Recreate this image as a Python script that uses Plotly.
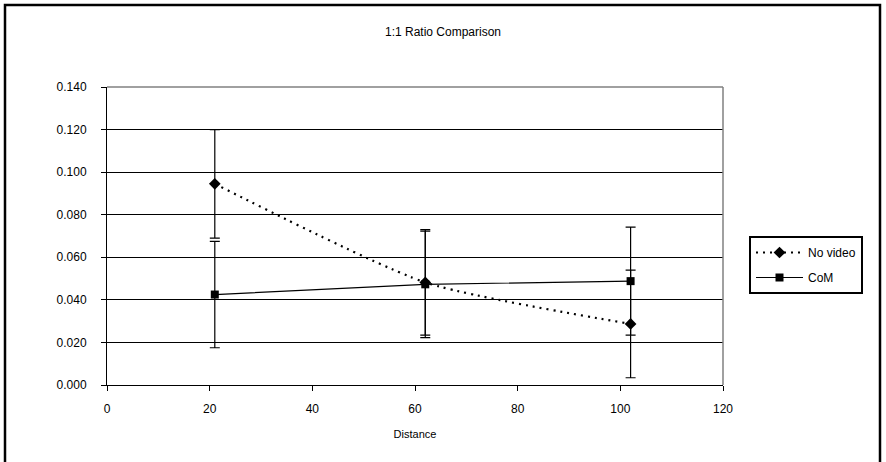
import plotly.graph_objects as go

# Distance values and measured ratios with their error margins
distance = [21, 62, 102]
no_video = [0.0945, 0.0482, 0.0287]
no_video_err = [0.0255, 0.0248, 0.0253]
com = [0.0425, 0.0473, 0.0488]
com_err = [0.0250, 0.0250, 0.0254]

x_ticks = [0, 20, 40, 60, 80, 100, 120]
y_ticks = [0.0, 0.02, 0.04, 0.06, 0.08, 0.10, 0.12, 0.14]

FONT = "Liberation Sans, Arial, sans-serif"

fig = go.Figure()

fig.add_trace(go.Scatter(
    x=distance, y=no_video, name="No video", mode="lines+markers",
    legendgroup="a",
    line=dict(color="black", width=2.2, dash="2px,5px", shape="spline", smoothing=0.6),
    marker=dict(symbol="diamond", size=9, color="black"),
    error_y=dict(type="data", array=no_video_err, visible=True,
                 color="black", thickness=1.2, width=5),
))

fig.add_trace(go.Scatter(
    x=distance, y=com, name="CoM", mode="lines+markers",
    legendgroup="b",
    line=dict(color="black", width=1.2),
    marker=dict(symbol="square", size=8, color="black"),
    error_y=dict(type="data", array=com_err, visible=True,
                 color="black", thickness=1.2, width=5),
))

L, R, T, B = 107, 163, 87, 77
W, H = 886, 462
pw, ph = W - L - R, H - T - B


def px_x(p):
    return (p - L) / pw


def px_y(p):
    return (H - B - p) / ph


# Outer chart frame
fig.add_shape(type="rect", xref="paper", yref="paper",
              x0=px_x(5), x1=px_x(880), y0=px_y(475), y1=px_y(5),
              line=dict(color="black", width=2.5), layer="below")

fig.update_layout(
    width=W, height=H,
    margin=dict(l=L, r=R, t=T, b=B),
    paper_bgcolor="white", plot_bgcolor="white",
    font=dict(family=FONT, size=12, color="black"),
    title=dict(text="1:1 Ratio Comparison", x=0.5, xref="container",
               y=1 - 32 / H, yref="container", yanchor="middle", xanchor="center",
               font=dict(family=FONT, size=12, color="black")),
    showlegend=True,
    legend=dict(x=px_x(749), y=px_y(236), xanchor="left", yanchor="top",
                bgcolor="white", bordercolor="black", borderwidth=2,
                font=dict(family=FONT, size=12, color="black"),
                tracegroupgap=6, itemwidth=47),
    xaxis=dict(range=[0, 120], tickvals=x_ticks, ticktext=[str(v) for v in x_ticks],
               showgrid=False, zeroline=False, showline=True, linecolor="black",
               linewidth=1, ticks="outside", ticklen=5, tickcolor="black",
               mirror=False, tickfont=dict(size=12), ticklabelstandoff=8,
               title=dict(text="Distance", font=dict(size=11), standoff=14)),
    yaxis=dict(range=[0, 0.14], tickvals=y_ticks,
               ticktext=[f"{v:.3f}" for v in y_ticks],
               showgrid=True, gridcolor="black", gridwidth=1,
               zeroline=False, showline=True, linecolor="black", linewidth=1,
               ticks="outside", ticklen=5, tickcolor="black",
               tickfont=dict(size=12), ticklabelstandoff=12),
)

# Gray top and right border of the plot area
fig.add_shape(type="line", xref="paper", yref="paper", x0=1, x1=1, y0=0, y1=1,
              line=dict(color="#808080", width=1.5))
fig.add_shape(type="line", xref="paper", yref="paper", x0=0, x1=1, y0=1, y1=1,
              line=dict(color="#808080", width=1.5))

fig.write_html("out.html")
